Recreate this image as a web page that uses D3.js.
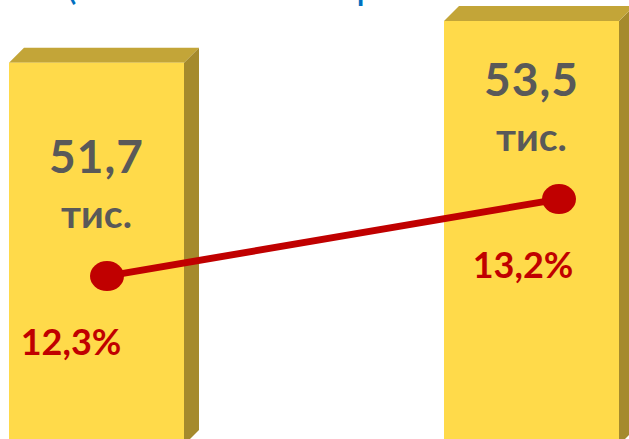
<!DOCTYPE html>
<html>
<head>
<meta charset="utf-8">
<script src="https://cdn.jsdelivr.net/npm/d3@7"></script>
<style>
  body { margin: 0; background: #fff; overflow: hidden; }
  text { font-family: Lato, "Open Sans", sans-serif; font-weight: bold; }
</style>
</head>
<body>
<div id="chart"></div>
<script>
var categories = ["2019", "2020"];
var barValues = [51.7, 53.5];
var barLabels = ["51,7", "53,5"];
var unitLabel = "тис.";
var shareValues = [12.3, 13.2];
var shareLabels = ["12,3%", "13,2%"];

var width = 629, height = 439,
    depth = 15;

var svg = d3.select("#chart").append("svg")
    .attr("width", width)
    .attr("height", height);

// bars sit on a cut axis, so the scale starts well above zero
var x = d3.scaleBand()
    .domain(categories)
    .range([9, 619])
    .paddingInner(0.5977)
    .paddingOuter(0);
var y = d3.scaleLinear()
    .domain([35.2, 53.5])
    .range([445, 21]);

// line series on its own axis
var xl = d3.scalePoint()
    .domain(categories)
    .range([107, 559]);
var yl = d3.scaleLinear()
    .domain([10, 15])
    .range([473, 45]);

// title, mostly cut off by the top edge
svg.append("text")
    .attr("y", -1)
    .attr("fill", "#0070C0")
    .style("font-size", "40px")
    .style("font-weight", "normal")
    .selectAll("tspan")
    .data(["(", "р"])
    .enter().append("tspan")
    .attr("x", function (d, i) { return i ? 356 : 66; })
    .text(function (d) { return d; });

var bars = svg.selectAll(".bar")
    .data(categories)
    .enter().append("g")
    .attr("class", "bar");

var base = y.range()[0];
// side face
bars.append("path")
    .attr("fill", "#A58A2C")
    .attr("d", function (d, i) {
        var x1 = x(d) + x.bandwidth(), t = y(barValues[i]);
        return "M" + x1 + "," + t + "L" + (x1 + depth) + "," + (t - depth) +
            "L" + (x1 + depth) + "," + (base - depth) + "L" + x1 + "," + base + "Z";
    });
// top face
bars.append("path")
    .attr("fill", "#C3A538")
    .attr("d", function (d, i) {
        var x0 = x(d), x1 = x0 + x.bandwidth(), t = y(barValues[i]);
        return "M" + x0 + "," + t + "L" + (x0 + depth) + "," + (t - depth) +
            "L" + (x1 + depth) + "," + (t - depth) + "L" + x1 + "," + t + "Z";
    });
// front face
bars.append("rect")
    .attr("fill", "#FFDA4A")
    .attr("x", function (d) { return x(d); })
    .attr("y", function (d, i) { return y(barValues[i]); })
    .attr("width", x.bandwidth())
    .attr("height", function (d, i) { return base - y(barValues[i]); });

// value labels
bars.append("text")
    .attr("text-anchor", "middle")
    .attr("fill", "#595959")
    .style("font-size", "46px")
    .style("letter-spacing", "1px")
    .attr("x", function (d) { return x(d) + x.bandwidth() / 2; })
    .attr("y", function (d, i) { return yl(shareValues[i]) - 103; })
    .text(function (d, i) { return barLabels[i]; });
bars.append("text")
    .attr("text-anchor", "middle")
    .attr("fill", "#595959")
    .style("font-size", "39px")
    .attr("x", function (d) { return x(d) + x.bandwidth() / 2; })
    .attr("y", function (d, i) { return yl(shareValues[i]) - 48; })
    .text(unitLabel);

// share line
var line = d3.line()
    .x(function (d, i) { return xl(categories[i]); })
    .y(function (d) { return yl(d); });
svg.append("path")
    .datum(shareValues)
    .attr("fill", "none")
    .attr("stroke", "#C00000")
    .attr("stroke-width", 7)
    .attr("d", line);
svg.selectAll(".dot")
    .data(shareValues)
    .enter().append("ellipse")
    .attr("class", "dot")
    .attr("fill", "#C00000")
    .attr("cx", function (d, i) { return xl(categories[i]); })
    .attr("cy", function (d) { return yl(d); })
    .attr("rx", 17)
    .attr("ry", 15);

svg.selectAll(".share")
    .data(shareValues)
    .enter().append("text")
    .attr("class", "share")
    .attr("text-anchor", "middle")
    .attr("fill", "#C00000")
    .style("font-size", "36px")
    .attr("x", function (d, i) { return xl(categories[i]) - 36; })
    .attr("y", function (d) { return yl(d) + 79; })
    .text(function (d, i) { return shareLabels[i]; });
</script>
</body>
</html>
